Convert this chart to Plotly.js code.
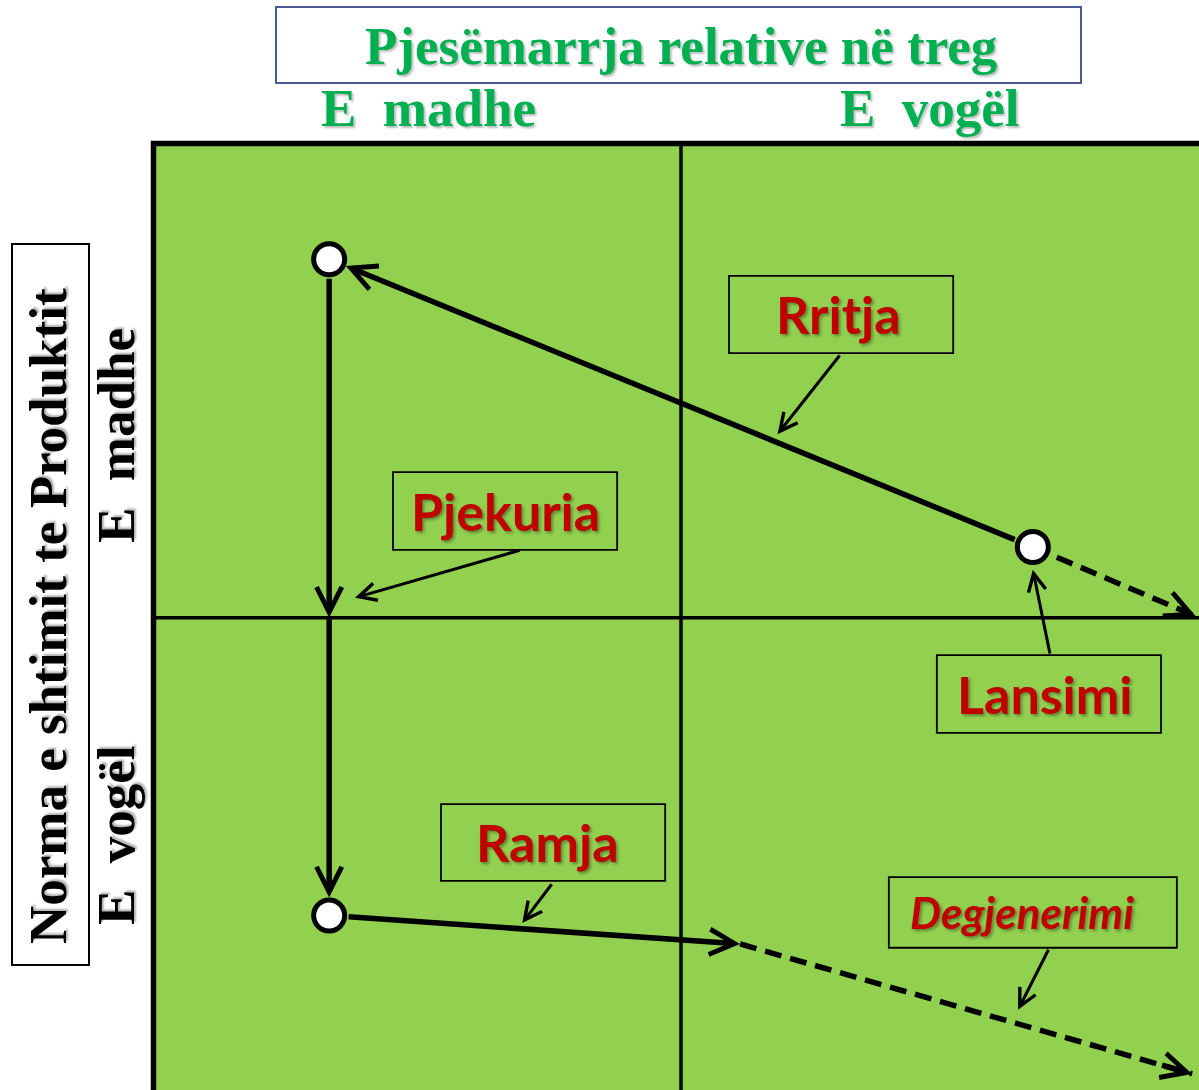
<!DOCTYPE html>
<html>
<head>
<meta charset="utf-8">
<script src="https://cdn.plot.ly/plotly-3.0.1.min.js"></script>
<style>
  html, body { margin: 0; padding: 0; background: #ffffff; }
  #chart { width: 1199px; height: 1090px; }
</style>
</head>
<body>
<div id="chart"></div>
<script>
// ---------------- DATA ----------------
// Matrix units: x = relative market share axis (0..2, divider at 1),
//               y = product growth rate axis (0..2, divider at 1)
const headerTitle = 'Pjesëmarrja relative në treg';
const axisTitleY = 'Norma e shtimit te Produktit';
const xLevelLabels = ['E\u00a0\u00a0madhe', 'E\u00a0\u00a0vogël'];
const yLevelLabels = ['E\u00a0\u00a0madhe', 'E\u00a0\u00a0vogël'];

// life-cycle nodes: Lansimi (launch), start of maturity, start of decline
const nodeX = [1.667, 0.333, 0.333];
const nodeY = [1.149, 1.756, 0.372];

// solid path segments
const solidFromX = [1.667, 0.333, 0.333, 0.333];
const solidFromY = [1.149, 1.756, 1.000, 0.372];
const solidToX   = [0.333, 0.333, 0.333, 1.112];
const solidToY   = [1.756, 1.000, 0.372, 0.312];

// dashed continuations
const dashFromX = [1.667, 1.112];
const dashFromY = [1.149, 0.312];
const dashToX   = [1.976, 1.969];
const dashToY   = [1.003, 0.038];

// callouts
const stages   = ['Lansimi', 'Rritja', 'Pjekuria', 'Ramja', 'Degjenerimi'];
const labelX   = [1.690, 1.298, 0.668, 0.746, 1.647];
const boxX0    = [1.485, 1.091, 0.454, 0.545, 1.394];
const boxX1    = [1.910, 1.516, 0.879, 0.970, 1.940];
const boxY0    = [0.757, 1.558, 1.143, 0.445, 0.304];
const boxY1    = [0.921, 1.721, 1.307, 0.607, 0.453];
const ptrFromX = [1.700, 1.303, 0.697, 0.757, 1.698];
const ptrFromY = [0.921, 1.556, 1.143, 0.441, 0.303];
const ptrToX   = [1.667, 1.183, 0.382, 0.699, 1.639];
const ptrToY   = [1.101, 1.387, 1.042, 0.356, 0.173];
const italicStage = [false, false, false, false, true];

// ---------------- STYLE ----------------
const GREEN_FILL = '#92D050';
const HEADER_GREEN = '#00B050';
const LABEL_RED = '#C00000';
const XR = [-0.291, 1.982];
const YR = [0.004, 2.3026];

const shapes = [];
// matrix background
shapes.push({type: 'rect', xref: 'x', yref: 'y', x0: 0, x1: 2.2, y0: -0.2, y1: 2,
  fillcolor: GREEN_FILL, line: {width: 0}, layer: 'below'});
// dividers
shapes.push({type: 'line', xref: 'x', yref: 'y', x0: 1, x1: 1, y0: -0.2, y1: 2,
  line: {color: '#000', width: 3.5}, layer: 'below'});
shapes.push({type: 'line', xref: 'x', yref: 'y', x0: 0, x1: 2.2, y0: 1, y1: 1,
  line: {color: '#000', width: 3.5}, layer: 'below'});
// outer border (top + left)
shapes.push({type: 'path', xref: 'x', yref: 'y',
  path: 'M 0,-0.2 L 0,2 L 2.2,2', line: {color: '#000', width: 5.5}, layer: 'below'});
// header boxes
shapes.push({type: 'rect', xref: 'paper', yref: 'paper',
  x0: 276/1199, x1: 1081/1199, y0: 1 - 83/1090, y1: 1 - 7/1090,
  line: {color: '#4A5A96', width: 2}, fillcolor: 'rgba(0,0,0,0)'});
shapes.push({type: 'rect', xref: 'paper', yref: 'paper',
  x0: 12/1199, x1: 89/1199, y0: 1 - 965/1090, y1: 1 - 244/1090,
  line: {color: '#000', width: 2}, fillcolor: 'rgba(0,0,0,0)'});
// callout boxes
stages.forEach((s, i) => {
  shapes.push({type: 'rect', xref: 'x', yref: 'y',
    x0: boxX0[i], x1: boxX1[i], y0: boxY0[i], y1: boxY1[i],
    line: {color: '#000', width: 1.8}, fillcolor: 'rgba(0,0,0,0)', layer: 'below'});
});

const annotations = [];
const headerFont = {family: 'Liberation Serif, Times New Roman, serif', size: 53,
  color: HEADER_GREEN, weight: 'bold', shadow: '2px 2px 2px rgba(0,0,0,0.25)'};
const blackFont = Object.assign({}, headerFont, {color: '#000', shadow: '2px 2px 2px rgba(0,0,0,0.3)'});

annotations.push({xref: 'paper', yref: 'paper', x: 681/1199, y: 1 - 46/1090,
  text: headerTitle, showarrow: false, font: headerFont, xanchor: 'center', yanchor: 'middle'});
annotations.push({xref: 'paper', yref: 'paper', x: 428/1199, y: 1 - 108/1090,
  text: xLevelLabels[0], showarrow: false, font: headerFont, xanchor: 'center', yanchor: 'middle'});
annotations.push({xref: 'paper', yref: 'paper', x: 930/1199, y: 1 - 108/1090,
  text: xLevelLabels[1], showarrow: false, font: headerFont, xanchor: 'center', yanchor: 'middle'});
annotations.push({xref: 'paper', yref: 'paper', x: 48/1199, y: 1 - 616/1090,
  text: axisTitleY, showarrow: false, font: blackFont, textangle: -90,
  xanchor: 'center', yanchor: 'middle'});
annotations.push({xref: 'paper', yref: 'paper', x: 116/1199, y: 1 - 436/1090,
  text: yLevelLabels[0], showarrow: false, font: blackFont, textangle: -90,
  xanchor: 'center', yanchor: 'middle'});
annotations.push({xref: 'paper', yref: 'paper', x: 116/1199, y: 1 - 835/1090,
  text: yLevelLabels[1], showarrow: false, font: blackFont, textangle: -90,
  xanchor: 'center', yanchor: 'middle'});

// solid path arrows
const nodeStandoff = 18;
const isNode = (x, y) => nodeX.some((nx, k) => nx === x && nodeY[k] === y);
for (let i = 0; i < solidFromX.length; i++) {
  annotations.push({xref: 'x', yref: 'y', axref: 'x', ayref: 'y',
    x: solidToX[i], y: solidToY[i], ax: solidFromX[i], ay: solidFromY[i],
    text: '', showarrow: true, arrowhead: 5, arrowsize: 0.9, arrowwidth: 5.5,
    arrowcolor: '#000', standoff: isNode(solidToX[i], solidToY[i]) ? nodeStandoff : 0,
    startstandoff: isNode(solidFromX[i], solidFromY[i]) ? nodeStandoff : 0});
}
// arrowheads for dashed lines
for (let i = 0; i < dashFromX.length; i++) {
  const f = 0.93;
  annotations.push({xref: 'x', yref: 'y', axref: 'x', ayref: 'y',
    x: dashToX[i], y: dashToY[i],
    ax: dashFromX[i] + (dashToX[i] - dashFromX[i]) * f,
    ay: dashFromY[i] + (dashToY[i] - dashFromY[i]) * f,
    text: '', showarrow: true, arrowhead: 5, arrowsize: 0.9, arrowwidth: 5.5,
    arrowcolor: '#000'});
}
// callout labels and pointers
stages.forEach((s, i) => {
  annotations.push({xref: 'x', yref: 'y', x: labelX[i], y: (boxY0[i] + boxY1[i]) / 2,
    text: s, showarrow: false, xanchor: 'center', yanchor: 'middle',
    font: {family: 'Lato, sans-serif', size: italicStage[i] ? 44 : 52, color: LABEL_RED,
      weight: 'bold', style: italicStage[i] ? 'italic' : 'normal',
      shadow: '2px 2px 3px rgba(0,0,0,0.35)'}});
  annotations.push({xref: 'x', yref: 'y', axref: 'x', ayref: 'y',
    x: ptrToX[i], y: ptrToY[i], ax: ptrFromX[i], ay: ptrFromY[i],
    text: '', showarrow: true, arrowhead: 5, arrowsize: 1.15, arrowwidth: 3,
    arrowcolor: '#000'});
});

const traces = [];
for (let i = 0; i < dashFromX.length; i++) {
  traces.push({type: 'scatter', mode: 'lines', x: [dashFromX[i], dashToX[i]], y: [dashFromY[i], dashToY[i]],
    line: {color: '#000', width: 5.5, dash: '17px,9px'}, hoverinfo: 'skip', showlegend: false});
}
traces.push({type: 'scatter', mode: 'markers', x: nodeX, y: nodeY,
  marker: {size: 31, color: '#fff', line: {color: '#000', width: 5}},
  hoverinfo: 'skip', showlegend: false, cliponaxis: false});

const layout = {
  width: 1199, height: 1090,
  margin: {l: 0, r: 0, t: 0, b: 0, pad: 0},
  paper_bgcolor: '#ffffff', plot_bgcolor: '#ffffff',
  xaxis: {range: XR, visible: false, fixedrange: true},
  yaxis: {range: YR, visible: false, fixedrange: true},
  showlegend: false,
  shapes: shapes,
  annotations: annotations
};

Plotly.newPlot('chart', traces, layout, {displayModeBar: false, staticPlot: true});
</script>
</body>
</html>
